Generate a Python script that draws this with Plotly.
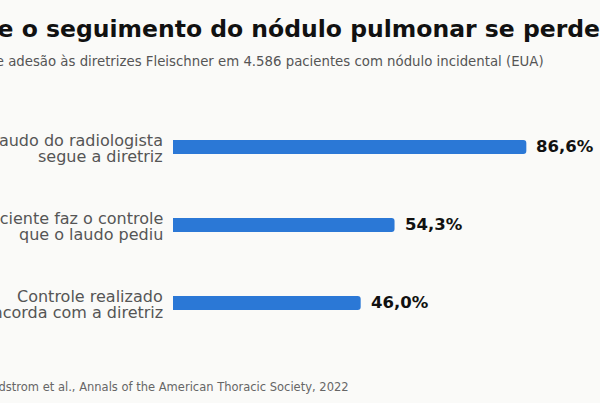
import plotly.graph_objects as go

category_lines = [
    ["Laudo do radiologista", "segue a diretriz"],
    ["Paciente faz o controle", "que o laudo pediu"],
    ["Controle realizado", "concorda com a diretriz"],
]
categories = [" ".join(c) for c in category_lines]
values = [86.6, 54.3, 46.0]
value_labels = ["86,6%", "54,3%", "46,0%"]

title_text = "Onde o seguimento do nódulo pulmonar se perde"
subtitle_text = "Taxa de adesão às diretrizes Fleischner em 4.586 pacientes com nódulo incidental (EUA)"
source_text = "Fonte: Lindstrom et al., Annals of the American Thoracic Society, 2022"

W, H = 600, 403
ML, MR, MT, MB = 173, 19, 108, 61
PW, PH = W - ML - MR, H - MT - MB

def px(x):
    return (x - ML) / PW

def py(y):
    return (H - MB - y) / PH

BG = "#fafaf8"
BAR = "#2b78d6"
FONT = "DejaVu Sans"

fig = go.Figure()
fig.add_trace(go.Bar(
    x=values, y=categories, orientation="h",
    marker=dict(color=BAR, line=dict(width=0)),
    hoverinfo="skip",
))

annotations = []
for v, lab, cat, lines in zip(values, value_labels, categories, category_lines):
    annotations.append(dict(
        x=v, y=cat, xref="x", yref="y", text="<b>%s</b>" % lab,
        showarrow=False, xanchor="left", yanchor="middle", xshift=8, yshift=1,
        font=dict(family=FONT, size=16.5, color="#111111"),
    ))
    for line, shift in zip(lines, [7, -9]):
        annotations.append(dict(
            x=0, y=cat, xref="x", yref="y", text=line,
            showarrow=False, xanchor="right", yanchor="middle",
            xshift=-8, yshift=shift,
            font=dict(family=FONT, size=16, color="#555555"),
        ))

annotations.append(dict(
    x=px(-58), y=py(29), xref="paper", yref="paper",
    text="<b>%s</b>" % title_text, showarrow=False,
    xanchor="left", yanchor="middle",
    font=dict(family=FONT, size=23.5, color="#111111"),
))
annotations.append(dict(
    x=px(546), y=py(61), xref="paper", yref="paper",
    text=subtitle_text, showarrow=False,
    xanchor="right", yanchor="middle",
    font=dict(family=FONT, size=13.3, color="#555555"),
))
annotations.append(dict(
    x=px(351), y=py(387), xref="paper", yref="paper",
    text=source_text, showarrow=False,
    xanchor="right", yanchor="middle",
    font=dict(family=FONT, size=11.5, color="#666666"),
))

fig.update_layout(
    width=W, height=H,
    margin=dict(l=ML, r=MR, t=MT, b=MB, pad=0),
    paper_bgcolor=BG, plot_bgcolor=BG,
    showlegend=False,
    bargap=0.82,
    barcornerradius=3,
    font=dict(family=FONT),
    annotations=annotations,
)
fig.update_xaxes(range=[0, 100], visible=False, showgrid=False, zeroline=False)
fig.update_yaxes(
    autorange="reversed", automargin=False, showgrid=False, zeroline=False,
    showline=False, ticks="", showticklabels=False,
)

fig.write_html(
    "out.html",
    config={"displayModeBar": False},
    post_script="document.body.style.margin='0';document.body.style.background='%s';" % BG,
)
